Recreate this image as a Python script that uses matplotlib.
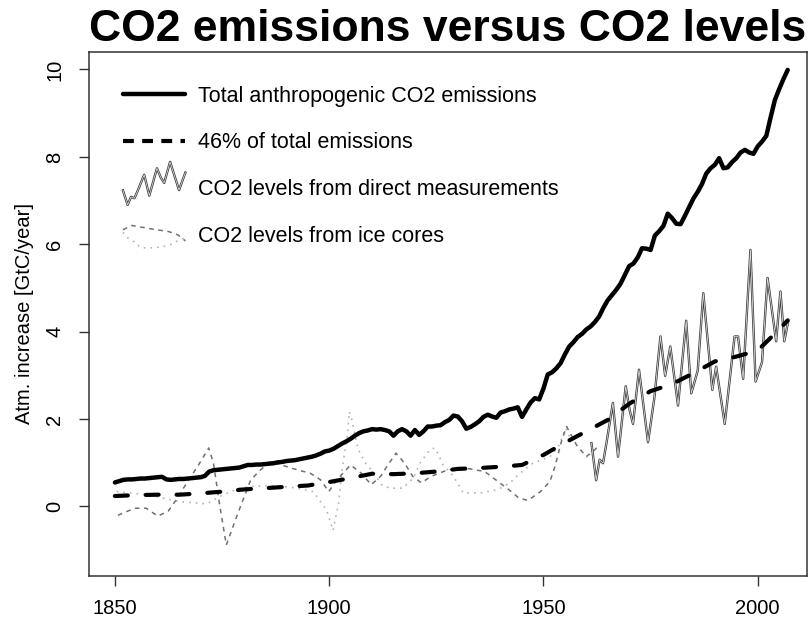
import numpy as np
import matplotlib
matplotlib.use("Agg")
import matplotlib.pyplot as plt
from matplotlib.lines import Line2D
from matplotlib.legend_handler import HandlerBase

plt.rcParams['font.family'] = ['Liberation Sans', 'DejaVu Sans']

# total anthropogenic CO2 emissions, GtC/year, one value per year
emis_years = list(range(1850, 2008))
emis_vals = [
    0.55, 0.58, 0.61, 0.62, 0.62, 0.63, 0.64, 0.64, 0.65, 0.66,   # 1850s
    0.67, 0.68, 0.62, 0.61, 0.62, 0.63, 0.63, 0.64, 0.65, 0.66,   # 1860s
    0.67, 0.70, 0.80, 0.83, 0.84, 0.85, 0.86, 0.87, 0.88, 0.89,   # 1870s
    0.92, 0.95, 0.95, 0.96, 0.96, 0.97, 0.98, 0.99, 1.01, 1.02,   # 1880s
    1.04, 1.05, 1.06, 1.08, 1.10, 1.12, 1.14, 1.17, 1.21, 1.26,   # 1890s
    1.28, 1.32, 1.38, 1.44, 1.49, 1.55, 1.62, 1.68, 1.72, 1.74,   # 1900s
    1.77, 1.76, 1.77, 1.75, 1.72, 1.62, 1.72, 1.77, 1.72, 1.62,   # 1910s
    1.75, 1.64, 1.72, 1.83, 1.83, 1.85, 1.86, 1.93, 1.98, 2.08,   # 1920s
    2.06, 1.95, 1.78, 1.82, 1.88, 1.95, 2.05, 2.10, 2.06, 2.03,   # 1930s
    2.15, 2.18, 2.22, 2.24, 2.27, 2.05, 2.22, 2.38, 2.48, 2.45,   # 1940s
    2.70, 3.02, 3.07, 3.16, 3.28, 3.48, 3.66, 3.76, 3.88, 3.95,   # 1950s
    4.05, 4.12, 4.22, 4.35, 4.55, 4.72, 4.84, 4.96, 5.10, 5.30,   # 1960s
    5.50, 5.56, 5.70, 5.91, 5.90, 5.87, 6.20, 6.30, 6.42, 6.70,   # 1970s
    6.60, 6.47, 6.46, 6.65, 6.85, 7.05, 7.20, 7.38, 7.62, 7.74,   # 1980s
    7.82, 7.97, 7.74, 7.76, 7.88, 7.97, 8.10, 8.16, 8.10, 8.07,   # 1990s
    8.24, 8.35, 8.48, 8.90, 9.30, 9.55, 9.78, 9.99,               # 2000s
]

# 46% of total emissions (smooth curve)
frac_years = [1850, 1855, 1860, 1865, 1870, 1875, 1880, 1885, 1890, 1895,
              1900, 1905, 1910, 1915, 1920, 1925, 1930, 1935, 1940, 1945,
              1950, 1955, 1960, 1965, 1970, 1975, 1980, 1985, 1990, 1995,
              2000, 2005, 2007]
frac_vals = [0.24, 0.26, 0.27, 0.27, 0.30, 0.34, 0.39, 0.42, 0.45, 0.48,
             0.56, 0.65, 0.75, 0.74, 0.76, 0.80, 0.86, 0.88, 0.91, 0.95,
             1.18, 1.46, 1.72, 1.98, 2.35, 2.64, 2.80, 3.05, 3.32, 3.43,
             3.57, 4.05, 4.26]

# direct measurements (Mauna Loa growth rate as GtC/year)
direct_years = [1961.2, 1962.3, 1963.1, 1963.9, 1964.7, 1966.2, 1967.4, 1969.2,
                1970.1, 1970.9, 1972.3, 1974.4, 1975.9, 1977.3, 1978.4, 1979.6,
                1981.4, 1983.3, 1984.5, 1986.0, 1987.3, 1989.4, 1990.3, 1992.3,
                1994.6, 1995.4, 1996.6, 1998.3, 1999.5, 2001.0, 2002.3, 2004.3,
                2005.3, 2006.2, 2007.1]
direct_vals = [1.45, 0.60, 1.07, 0.99, 1.45, 2.37, 1.14, 2.75,
               2.21, 1.89, 3.13, 1.47, 2.50, 3.89, 2.99, 3.66,
               2.31, 4.25, 2.59, 3.11, 4.88, 2.67, 3.20, 1.89,
               3.89, 3.89, 2.92, 5.87, 2.86, 3.30, 5.23, 3.78,
               4.92, 3.78, 4.23]

# ice core record 1 (dashed)
ice1_years = [1850.7, 1854.6, 1857.3, 1860.0, 1862.4, 1864.3, 1866.0, 1869.5,
              1871.9, 1873.0, 1874.5, 1876.0, 1878.0, 1879.3, 1881.7, 1884.0,
              1886.3, 1889.5, 1892.5, 1895.6, 1898.0, 1899.9, 1901.8, 1905.0,
              1907.5, 1909.8, 1912.0, 1913.7, 1915.6, 1917.6, 1919.5, 1921.5,
              1923.8, 1927.7, 1931.7, 1936.3, 1939.4, 1942.0, 1944.3, 1946.4,
              1949.3, 1951.5, 1952.7, 1953.5, 1954.3, 1955.4, 1957.7, 1960.0,
              1962.0, 1962.7]
ice1_vals = [-0.20, -0.04, -0.04, -0.22, -0.11, 0.15, 0.42, 0.95,
             1.34, 0.99, 0.00, -0.88, -0.34, 0.00, 0.61, 0.84,
             1.03, 0.93, 0.84, 0.76, 0.61, 0.34, 0.61, 0.95,
             0.76, 0.50, 0.69, 0.95, 1.22, 0.99, 0.69, 0.54,
             0.69, 0.84, 0.88, 0.80, 0.57, 0.38, 0.19, 0.14,
             0.34, 0.57, 0.92, 1.22, 1.53, 1.83, 1.41, 1.14,
             1.30, 1.37]

# ice core record 2 (dotted)
ice2_years = [1850.4, 1857.4, 1865.2, 1871.4, 1875.3, 1879.2, 1883.1, 1888.5,
              1892.4, 1896.3, 1899.4, 1900.9, 1902.2, 1903.0, 1904.2, 1904.7,
              1905.3, 1906.1, 1906.8, 1908.5, 1910.5, 1912.2, 1914.1, 1917.2,
              1919.6, 1921.2, 1923.5, 1924.7, 1926.6, 1929.0, 1931.3, 1935.3,
              1939.2, 1942.2, 1944.5, 1947.5, 1951.5, 1953.5, 1955.2, 1956.5]
ice2_vals = [0.34, 0.27, 0.11, 0.06, 0.27, 0.42, 0.47, 0.47,
             0.42, 0.34, -0.08, -0.55, 0.08, 0.84, 1.60, 2.17,
             1.98, 1.60, 1.30, 0.99, 0.76, 0.50, 0.42, 0.42,
             0.65, 0.99, 1.30, 1.34, 0.95, 0.69, 0.31, 0.31,
             0.38, 0.54, 0.76, 0.99, 1.14, 1.37, 1.79, 1.50]

labels = ["Total anthropogenic CO2 emissions",
          "46% of total emissions",
          "CO2 levels from direct measurements",
          "CO2 levels from ice cores"]

solid_style = dict(color='black', lw=3.2, solid_capstyle='round', solid_joinstyle='round')
frac_style = dict(color='black', lw=3.0, linestyle=(0, (3.1, 4.3)), dash_capstyle='round')
ice1_style = dict(color='#707070', lw=1.1, linestyle=(0, (3.0, 3.0)))
ice2_style = dict(color='#b4b4b4', lw=1.2, linestyle=(0, (1.0, 3.0)))
direct_outer = dict(color='#3a3a3a', lw=1.7)
direct_inner = dict(color='#d8d8d8', lw=0.6)


class SeriesHandler(HandlerBase):
    # draws a squeezed copy of a piece of a data series into the legend box;
    # lo/hi are offsets from the box centre in units of the font size
    def __init__(self, series):
        super().__init__()
        self.series = series

    def create_artists(self, legend, orig_handle, xdescent, ydescent,
                       width, height, fontsize, trans):
        out = []
        yc = -ydescent + height / 2
        for xs, ys, style, lo, hi in self.series:
            xs = np.asarray(xs, float)
            ys = np.asarray(ys, float)
            px = -xdescent + (xs - xs.min()) / (xs.max() - xs.min()) * width
            py = yc + fontsize * (lo + (ys - ys.min()) / (ys.max() - ys.min()) * (hi - lo))
            ln = Line2D(px, py, **style)
            ln.set_transform(trans)
            out.append(ln)
        return out


fig = plt.figure(figsize=(8.1, 6.19), dpi=100)
ax = fig.add_axes([0.1096, 0.0695, 0.8867, 0.8465])

ax.plot(ice2_years, ice2_vals, **ice2_style)
ax.plot(ice1_years, ice1_vals, **ice1_style)
ax.plot(direct_years, direct_vals, **direct_outer)
ax.plot(direct_years, direct_vals, **direct_inner)
ax.plot(frac_years, frac_vals, **frac_style)
ax.plot(emis_years, emis_vals, **solid_style)

ax.set_xlim(1843.9, 2011.5)
ax.set_ylim(-1.59, 10.4)
ax.set_xticks([1850, 1900, 1950, 2000])
ax.set_yticks([0, 2, 4, 6, 8, 10])
ax.tick_params(axis='both', direction='out', length=7.5, width=1, color='#333333',
               labelsize=14.5)
ax.tick_params(axis='x', pad=9)
ax.tick_params(axis='y', pad=10)
for lab in ax.get_yticklabels():
    lab.set_rotation(90)
    lab.set_va('center')
for sp in ax.spines.values():
    sp.set_color('#333333')
    sp.set_linewidth(1.1)

ax.set_ylabel("Atm. increase [GtC/year]", fontsize=14.5, labelpad=8)
fig.text(0.553, 0.986, "CO2 emissions versus CO2 levels", ha='center', va='top',
         fontsize=32, fontweight='bold')

h_solid = Line2D([], [], **solid_style)
h_frac = Line2D([], [], color='black', lw=3.0, linestyle=(0, (2.6, 2.0)))
h_direct = Line2D([], [])
h_ice = Line2D([], [])
hmap = {
    # legend glyphs: the first part of the direct record, and two stretches of the ice cores
    h_direct: SeriesHandler([(direct_years[:13], direct_vals[:13], direct_outer, -0.8, 1.2),
                             (direct_years[:13], direct_vals[:13], direct_inner, -0.8, 1.2)]),
    h_ice: SeriesHandler([(ice1_years[15:22], ice1_vals[15:22], ice1_style, -0.3, 0.42),
                          (ice2_years[27:36], ice2_vals[27:36], ice2_style, -0.62, 0.1)]),
}
ax.legend([h_solid, h_frac, h_direct, h_ice], labels, handler_map=hmap,
          loc='upper left', bbox_to_anchor=(0.0476, 0.936), borderaxespad=0,
          borderpad=0, frameon=False, fontsize=15.5, handlelength=2.9,
          handletextpad=0.6, labelspacing=1.2)

fig.savefig("out.png", dpi=100)
